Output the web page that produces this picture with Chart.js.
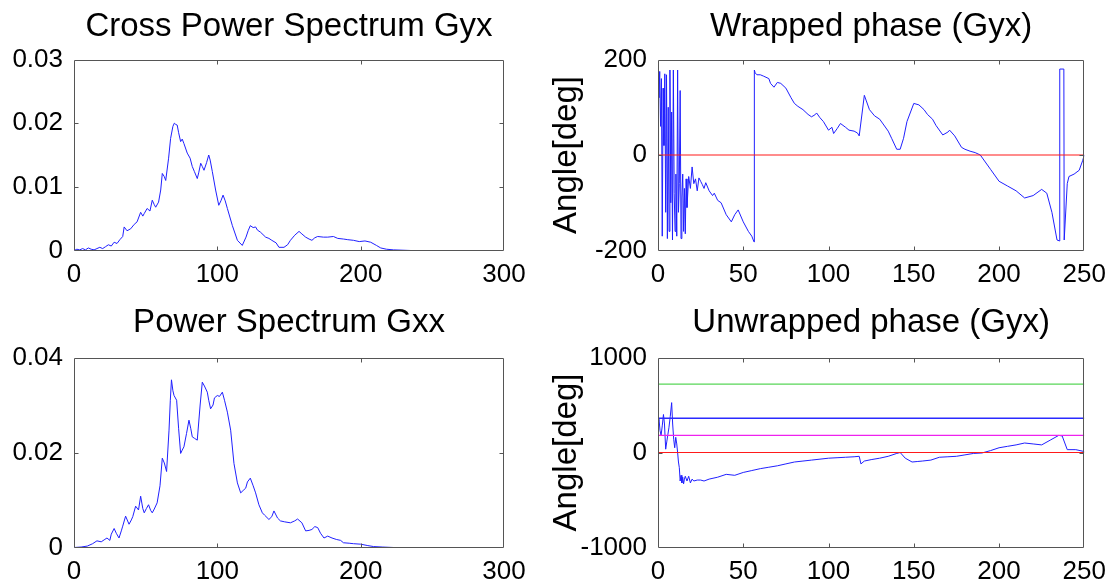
<!DOCTYPE html>
<html><head><meta charset="utf-8">
<script src="https://cdn.jsdelivr.net/npm/chart.js@4.4.0/dist/chart.umd.min.js"></script>
<style>
html,body{margin:0;padding:0;background:#fff;overflow:hidden;width:1115px;height:583px;}
canvas{position:absolute;}
</style></head><body>
<canvas id="c1" width="540" height="291" style="left:0;top:0"></canvas>
<canvas id="c2" width="575" height="291" style="left:540px;top:0"></canvas>
<canvas id="c3" width="540" height="285" style="left:0;top:298px"></canvas>
<canvas id="c4" width="575" height="285" style="left:540px;top:298px"></canvas>
<script>
// ---- Data ----
const titles = ['Cross Power Spectrum Gyx', 'Wrapped phase (Gyx)', 'Power Spectrum Gxx', 'Unwrapped phase (Gyx)'];
const yAxisLabel = 'Angle[deg]';

const gyxX = [0,2,4,6,8,10,12,14,16,18,20,22,24,26,28,30,32,34,35,37,39.5,42,44,46.5,48,49,51,53,54.6,56,57,59,60.5,61.6,63,64,66,67.4,69,70,71,72,73,74.4,75.5,76.7,79,81,82.5,84,86,87,88.4,89.5,90.7,92.5,94,95,96.5,98.8,101,102.5,104,105.5,107,110.5,114,117.4,120,121.5,123,125,126.7,128,130,133.7,136,138,141,143,146.5,149,151,154,157,159,161.6,164,166,168,170,174,177,181,184,188,191,195,199,203,207,211,214,218,223,235,249];
const gyxY = [0,0.0002,0.0001,0.0003,0.0001,0.0004,0.0002,0.0001,0.0003,0.0005,0.0003,0.0006,0.0009,0.0007,0.0013,0.0011,0.0017,0.0022,0.0037,0.0031,0.0034,0.0041,0.0045,0.006,0.0054,0.0058,0.0066,0.0062,0.0079,0.0072,0.0068,0.0076,0.0095,0.0121,0.0116,0.011,0.0145,0.0176,0.0195,0.020,0.0198,0.0197,0.0185,0.0171,0.0175,0.0168,0.0153,0.0145,0.0132,0.0124,0.0113,0.0122,0.0137,0.0132,0.0126,0.0138,0.015,0.0142,0.0124,0.0095,0.0071,0.0078,0.0087,0.0078,0.0066,0.0039,0.0016,0.0008,0.0021,0.0031,0.0039,0.0036,0.0037,0.0032,0.0029,0.0021,0.0019,0.0016,0.0012,0.0005,0.0005,0.0009,0.0016,0.0024,0.003,0.0026,0.0021,0.0018,0.0016,0.002,0.0022,0.0021,0.0021,0.0022,0.0019,0.0018,0.0017,0.0016,0.0014,0.0015,0.0013,0.0008,0.0004,0.0002,0.0001,0,0];

const gxxX = [0,5,9.3,13,16,19,21,23,25,26,28,29.5,31.4,33,34,36,38.4,40,41,43,45,46.5,48,49,50.5,52,53.5,54.6,56,58,60,61.6,63,64.6,66.3,67.2,68,69,69.8,71.6,73,74.4,75.5,76.7,78.5,80.2,81.5,82.5,84,86,88,89.5,91,93,94,95.3,97,98,100,101.5,103.5,105,107,109.3,111.6,114,116.3,118,119.8,121,123,125,126.7,129,131.4,133,136,138,139.5,142,144,147,151,154,156,159,161.6,164,166,168,170,172,174.4,177,180,183,186,188,192,195,200,205,209,215,223,249];
const gxxY = [0,0.0001,0.0003,0.0008,0.0014,0.0012,0.0016,0.002,0.0015,0.0028,0.004,0.003,0.002,0.0035,0.0045,0.0066,0.0049,0.0058,0.0065,0.0087,0.0079,0.0108,0.0082,0.0073,0.0082,0.009,0.0078,0.0073,0.0081,0.0094,0.013,0.0188,0.0178,0.016,0.0247,0.031,0.0353,0.033,0.032,0.031,0.025,0.0198,0.0205,0.0212,0.024,0.0268,0.025,0.0233,0.023,0.0226,0.030,0.0348,0.034,0.0327,0.031,0.0292,0.030,0.0315,0.032,0.0318,0.0327,0.031,0.0285,0.0247,0.0177,0.0136,0.0115,0.012,0.0125,0.0138,0.0146,0.013,0.0115,0.009,0.0073,0.0068,0.0059,0.0065,0.0077,0.0062,0.0056,0.0054,0.0052,0.0056,0.006,0.0052,0.0035,0.0036,0.0038,0.0044,0.0042,0.003,0.002,0.0024,0.002,0.0017,0.0015,0.001,0.0009,0.0008,0.0007,0.0004,0.0002,0.0001,0,0];

const wrapX = [0,0.5,1,1.5,2,2.5,3,3.5,4,4.5,5,5.5,6,6.5,7,7.5,8,8.5,9,9.5,10,10.5,11,11.5,12,12.5,13,13.5,14,14.5,15,15.5,16,16.5,17,18,19,20,21,22,23,24,25,26,27,28,30,32,33,35,37,40,43,45,47,50,53,55,56.3,56.5,57,58,60,62,65,66,68,70,72,75,78,80,82,85,88,90,92,93,95,97,100,102,103,105,107,110,112,115,117,118,121,122,124,127,130,132,135,137,140,142,144,146,150,153,156,158,161,163,167,170,171,174,178,180,183,186,189,195,200,205,210,215,220,225,228,231,234,235.5,235.6,238,238.2,240,241,244,247,249,250];
const wrapY = [170,120,175,60,160,-170,140,20,170,-120,168,-175,100,-160,178,-100,90,-178,178,-80,-160,-40,-170,178,-120,-60,135,-175,-90,-40,-160,-70,-165,-50,-110,-45,-70,-25,-60,-50,-75,-48,-55,-62,-70,-58,-75,-85,-80,-95,-100,-125,-140,-125,-115,-140,-160,-170,-182,178,172,168,168,165,160,150,142,152,150,140,120,108,102,95,85,80,84,88,78,70,52,58,45,55,66,58,52,50,46,40,125,115,95,82,75,65,50,35,12,12,35,70,108,105,95,85,75,62,42,48,52,40,16,12,8,5,0,-30,-55,-65,-75,-90,-85,-72,-80,-120,-178,-180,180,180,-178,-60,-45,-40,-32,-12,0];

const unwrapX = [0,0.6,1.2,1.8,2.5,3.2,3.8,4.5,5.2,5.8,6.4,7.2,8,8.6,9.2,9.8,10.4,11,11.5,12,12.5,13,13.5,14,14.5,15,15.5,16,17,18,19,20,21,23,25,27,30,35,40,45,50,55,60,65,70,75,80,85,90,95,100,105,110,115,118,119,121,125,130,135,140,142,145,149,152,155,160,165,170,175,180,185,190,195,200,205,210,215,220,225,230,235,237,240,245,250];
const unwrapY = [300,350,230,180,280,400,300,35,120,190,260,380,525,300,140,50,160,90,0,-100,-160,-300,-240,-320,-260,-330,-280,-250,-300,-250,-320,-280,-300,-290,-290,-300,-280,-260,-230,-240,-210,-190,-170,-155,-140,-120,-100,-90,-80,-70,-60,-55,-50,-45,-40,-120,-90,-75,-60,-40,-10,0,-60,-100,-95,-90,-80,-50,-45,-40,-25,-10,-5,20,50,65,80,100,90,80,130,180,175,30,30,10];

const refLevels = [720, 360, 180, 0];
const refColors = ['#2ecc2e', '#2a2aff', '#ee22ee', '#ff1a1a'];
const refSpan = [0, 250];

// ---- helpers ----
const FONT = '"Liberation Sans", Arial, Helvetica, sans-serif';
const pts = (xs, ys) => xs.map((x, i) => ({x, y: ys[i]}));
const fmt = v => String(Number(Number(v).toPrecision(6)));

const frame = {
  id: 'frame',
  afterDatasetsDraw(chart) {
    const {ctx, chartArea: a, scales: {x, y}} = chart;
    const L = Math.round(a.left) + 0.5, R = Math.round(a.right) - 0.5;
    const T = Math.round(a.top) + 0.5, B = Math.round(a.bottom) - 0.5;
    ctx.save();
    ctx.strokeStyle = '#555';
    ctx.lineWidth = 1;
    ctx.beginPath();
    ctx.rect(L, T, R - L, B - T);
    const tl = 4;
    x.ticks.forEach(t => {
      if (t.value <= x.min || t.value >= x.max) return;
      const p = Math.round(x.getPixelForValue(t.value)) + 0.5;
      ctx.moveTo(p, B); ctx.lineTo(p, B - tl);
      ctx.moveTo(p, T); ctx.lineTo(p, T + tl);
    });
    y.ticks.forEach(t => {
      if (t.value <= y.min || t.value >= y.max) return;
      const p = Math.round(y.getPixelForValue(t.value)) + 0.5;
      ctx.moveTo(L, p); ctx.lineTo(L + tl, p);
      ctx.moveTo(R, p); ctx.lineTo(R - tl, p);
    });
    ctx.stroke();
    ctx.restore();
  }
};

function build(id, o) {
  return new Chart(document.getElementById(id), {
    type: 'line',
    data: {datasets: o.datasets},
    options: {
      responsive: false, animation: false, events: [],
      layout: {padding: {left: 0, top: 0, right: o.rightPad, bottom: 0}},
      elements: {point: {radius: 0}, line: {tension: 0}},
      plugins: {
        legend: {display: false}, tooltip: {enabled: false},
        title: {display: true, fullSize: false, text: o.title, color: '#000',
          font: {family: FONT, size: 33, weight: 'normal'},
          padding: {top: o.titleTop, bottom: 19.9 - o.titleTop}}
      },
      scales: {
        x: {type: 'linear', min: o.xMin, max: o.xMax,
          grid: {display: false, drawTicks: false}, border: {display: false},
          ticks: {stepSize: o.xStep, color: '#000', font: {family: FONT, size: 26}, padding: 9,
            maxRotation: 0, autoSkip: false, callback: fmt},
          afterFit(s) { s.height = o.xHeight; }},
        y: {type: 'linear', min: o.yMin, max: o.yMax,
          grid: {display: false, drawTicks: false}, border: {display: false},
          ticks: {stepSize: o.yStep, color: '#000', font: {family: FONT, size: 26}, padding: 11,
            autoSkip: false, callback: fmt},
          title: {display: !!o.yTitle, text: o.yTitle || '', color: '#000',
            font: {family: FONT, size: 33, weight: 'normal'}, padding: {top: 7, bottom: 0}},
          afterFit(s) { s.width = o.yWidth; }}
      }
    },
    plugins: [frame]
  });
}

const blueLine = (xs, ys, order) => ({data: pts(xs, ys), borderColor: '#2020ff', borderWidth: 1, pointRadius: 0, order});
const refLine = (lvl, col, w, order) => ({data: pts(refSpan, [lvl, lvl]), borderColor: col, borderWidth: w, pointRadius: 0, order});

build('c1', {title: titles[0], datasets: [blueLine(gyxX, gyxY, 1)], titleTop: 7.5,
  xMin: 0, xMax: 300, xStep: 100, yMin: 0, yMax: 0.03, yStep: 0.01,
  yWidth: 74, rightPad: 36, xHeight: 40.5});

build('c2', {title: titles[1], datasets: [refLine(refLevels[3], refColors[3], 1.2, 0), blueLine(wrapX, wrapY, 1)], titleTop: 7.5,
  xMin: 0, xMax: 250, xStep: 50, yMin: -200, yMax: 200, yStep: 200, yTitle: yAxisLabel,
  yWidth: 118, rightPad: 29, xHeight: 40.5});

build('c3', {title: titles[2], datasets: [blueLine(gxxX, gxxY, 1)], titleTop: 5.5,
  xMin: 0, xMax: 300, xStep: 100, yMin: 0, yMax: 0.04, yStep: 0.02,
  yWidth: 74, rightPad: 36, xHeight: 35.5});

build('c4', {title: titles[3], datasets: [
    blueLine(unwrapX, unwrapY, 5),
    refLine(refLevels[0], refColors[0], 1, 1),
    refLine(refLevels[1], refColors[1], 1.6, 2),
    refLine(refLevels[2], refColors[2], 1.2, 3),
    refLine(refLevels[3], refColors[3], 1.2, 4)], titleTop: 5.5,
  xMin: 0, xMax: 250, xStep: 50, yMin: -1000, yMax: 1000, yStep: 1000, yTitle: yAxisLabel,
  yWidth: 118, rightPad: 29, xHeight: 35.5});
</script>
</body></html>
